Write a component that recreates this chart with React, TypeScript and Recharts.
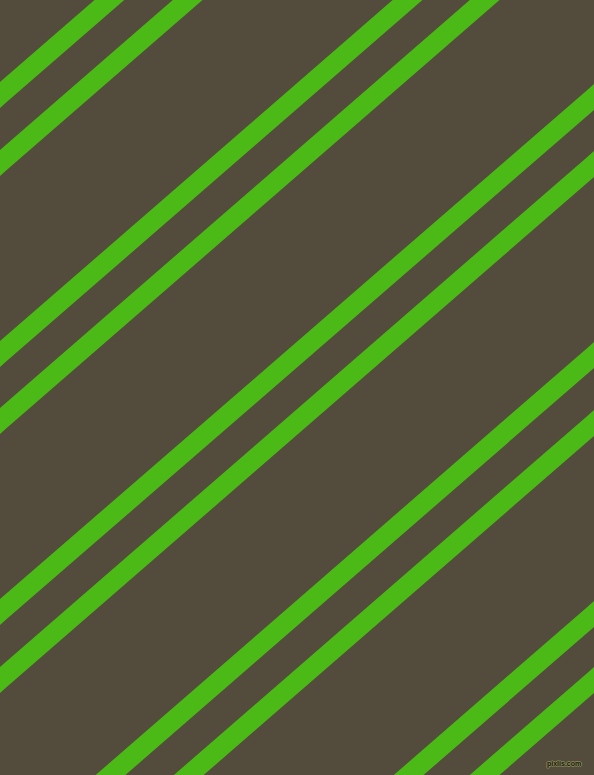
import { LineChart, Line, XAxis, YAxis } from "recharts";

// each stripe is read off the picture as where its centre line meets the left edge (x=0)
// and the right edge (x=594), in pixels down from the top
var stripeNames = ["s1", "s2", "s3", "s4", "s5", "s6", "s7", "s8", "s9", "s10"];
var leftEdgeY = [95, 163, 354, 421, 612, 680, 871, 939, 1130, 1196];
var rightEdgeY = [-421, -353, -162, -95, 97, 164, 355, 423, 614, 680];
var edgeX = [0, 594];

const W = 594;
const H = 775;
const BG = "#534c3c";
const GREEN = "#4cba16";
// run each line a bit past the frame so the butt caps are cut off by the clip
const OVERRUN = 40;

export default function App() {
  const stripes = stripeNames.map((name, i) => {
    const slope = (rightEdgeY[i] - leftEdgeY[i]) / (edgeX[1] - edgeX[0]);
    return {
      name,
      points: [
        { x: edgeX[0] - OVERRUN, y: leftEdgeY[i] - slope * OVERRUN },
        { x: edgeX[0], y: leftEdgeY[i] },
        { x: edgeX[1], y: rightEdgeY[i] },
        { x: edgeX[1] + OVERRUN, y: rightEdgeY[i] + slope * OVERRUN },
      ],
    };
  });

  return (
    <div style={{ position: "fixed", left: 0, top: 0, width: W, height: H, background: BG, overflow: "hidden" }}>
      <LineChart width={W} height={H} margin={{ top: 0, right: 0, bottom: 0, left: 0 }}>
        <XAxis type="number" dataKey="x" domain={[0, W]} hide allowDataOverflow />
        <YAxis type="number" dataKey="y" domain={[0, H]} reversed hide allowDataOverflow />
        {stripes.map((s) => (
          <Line
            key={s.name}
            data={s.points}
            dataKey="y"
            stroke={GREEN}
            strokeWidth={19.5}
            strokeLinecap="butt"
            dot={false}
            activeDot={false}
            isAnimationActive={false}
          />
        ))}
      </LineChart>
      <span
        style={{
          position: "absolute",
          left: 547,
          top: 760,
          lineHeight: 1,
          fontFamily: "Liberation Sans, sans-serif",
          fontWeight: "bold",
          fontSize: 7,
          color: "#16160c",
          textShadow: "1px 0 0 #8c8c5a, -1px 0 0 #8c8c5a, 0 1px 0 #8c8c5a, 0 -1px 0 #8c8c5a",
        }}
      >
        pixlis.com
      </span>
    </div>
  );
}
